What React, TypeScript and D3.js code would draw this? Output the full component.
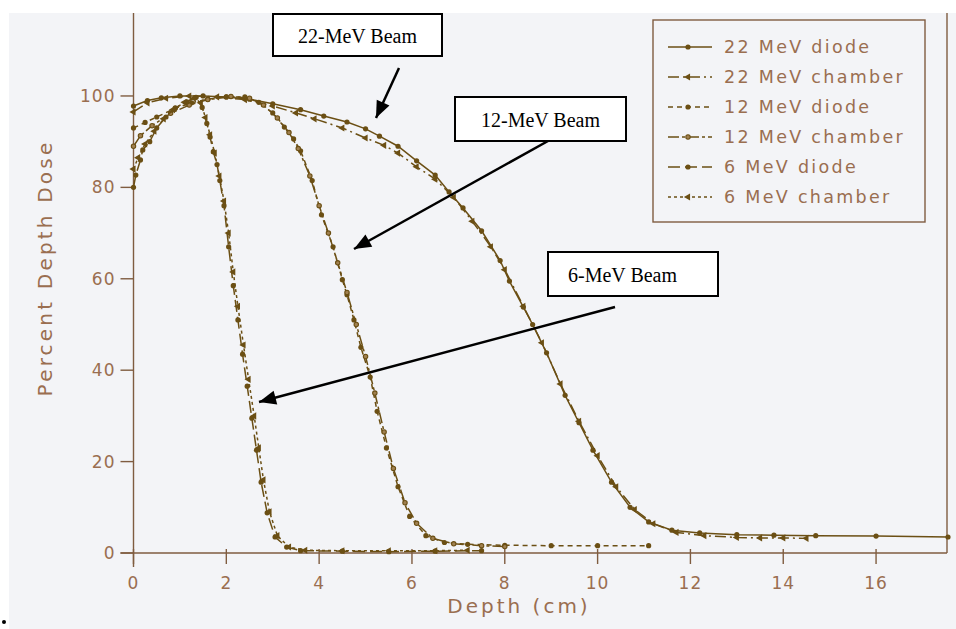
import React from "react";
import * as d3 from "d3";

// Depth-dose measurements: [depth (cm), percent depth dose]
const dose22Diode: [number, number][] = [
  [0, 97.8], [0.3, 99], [0.6, 99.6], [1.0, 100], [1.5, 100], [2.0, 99.8], [2.5, 99.3], [3.0, 98.3],
  [3.6, 97], [4.1, 95.6], [4.6, 94.3], [5.0, 92.8], [5.3, 91.2], [5.7, 89], [6.1, 85.8], [6.5, 82.7],
  [6.8, 79], [7.1, 75.5], [7.5, 70.5], [7.9, 64], [8.1, 59.5], [8.4, 53.8], [8.6, 50], [8.9, 43.8],
  [9.3, 34.5], [9.6, 28.5], [9.9, 22.5], [10.3, 15.5], [10.7, 10], [11.1, 6.8], [11.6, 5], [12.2, 4.4],
  [13.0, 4], [13.8, 3.9], [14.7, 3.8], [16.0, 3.7], [17.55, 3.5],
];
const dose22Chamber: [number, number][] = [
  [0, 96.5], [0.3, 98.5], [0.7, 99.5], [1.2, 100], [1.8, 99.8], [2.4, 99.2], [3.0, 97.8], [3.5, 96.3],
  [3.9, 95], [4.5, 93], [5.0, 90.8], [5.4, 89.2], [5.7, 87.5], [6.1, 84.5], [6.5, 81.8], [6.9, 77.8],
  [7.3, 72.6], [7.7, 67], [8.0, 62], [8.4, 54], [8.8, 46], [9.2, 37], [9.6, 28.8], [10.0, 21.3],
  [10.4, 14.5], [10.8, 9.5], [11.2, 6.4], [11.7, 4.5], [12.3, 3.8], [13.0, 3.4], [13.5, 3.3], [14.0, 3.3],
  [14.5, 3.2],
];
const dose12Diode: [number, number][] = [
  [0, 93], [0.25, 94.2], [0.5, 95.4], [0.9, 97.3], [1.25, 98.5], [1.6, 99.3], [2.0, 99.8], [2.4, 99.8],
  [2.7, 98.6], [3.0, 96.3], [3.25, 93.2], [3.45, 90.6], [3.6, 88], [3.85, 81.5], [4.05, 74], [4.3, 67],
  [4.5, 59.8], [4.6, 56.5], [4.75, 51], [4.9, 45], [5.1, 38.5], [5.25, 31], [5.45, 23], [5.7, 14.5],
  [5.95, 8], [6.3, 3.8], [6.7, 2.3], [7.2, 1.9], [8.0, 1.7], [9.0, 1.6], [10.0, 1.6], [11.1, 1.6],
];
const dose12Chamber: [number, number][] = [
  [0, 89], [0.15, 91.3], [0.4, 93.5], [0.8, 96.2], [1.2, 98], [1.6, 99.2], [2.1, 99.9], [2.5, 99.5],
  [2.8, 98], [3.1, 95.2], [3.35, 92], [3.55, 88.5], [3.8, 82.5], [4.0, 76], [4.2, 70], [4.4, 63.5],
  [4.6, 57], [4.8, 50], [5.0, 43], [5.2, 35], [5.4, 26.5], [5.6, 18.5], [5.85, 11], [6.1, 6.5],
  [6.45, 3.2], [6.9, 2], [7.5, 1.6], [8.0, 1.4],
];
const dose6Diode: [number, number][] = [
  [0, 80], [0.05, 82.7], [0.15, 86], [0.2, 88.2], [0.35, 90], [0.5, 93], [0.7, 95.4], [0.9, 97.4],
  [1.15, 98.7], [1.35, 99.7], [1.48, 97.5], [1.58, 94], [1.65, 91], [1.72, 87.8], [1.8, 85], [1.86, 81.5],
  [1.95, 76], [2.05, 67], [2.15, 58.5], [2.25, 51], [2.35, 43.5], [2.45, 36.5], [2.55, 29.5], [2.65, 22.5],
  [2.75, 15.5], [2.88, 8.8], [3.05, 3.5], [3.3, 1.3], [3.6, 0.5], [4.5, 0.4], [5.5, 0.3], [6.5, 0.4],
  [7.5, 0.5],
];
const dose6Chamber: [number, number][] = [
  [0, 84], [0.1, 86.5], [0.25, 89.5], [0.45, 92.3], [0.65, 95], [0.85, 97], [1.1, 98.6], [1.3, 99.5],
  [1.45, 98.5], [1.55, 95.3], [1.65, 91.5], [1.75, 87.5], [1.85, 82.5], [1.95, 77], [2.05, 70], [2.15, 61.5],
  [2.25, 54], [2.37, 45.5], [2.48, 38], [2.6, 30], [2.7, 23], [2.8, 16], [2.93, 9], [3.1, 3.8],
  [3.35, 1.3], [3.7, 0.6], [4.5, 0.5], [5.5, 0.5], [6.5, 0.5], [7.2, 0.6],
];

const seriesNames = [
  "22 MeV diode",
  "22 MeV chamber",
  "12 MeV diode",
  "12 MeV chamber",
  "6 MeV diode",
  "6 MeV chamber",
];
const seriesData = [dose22Diode, dose22Chamber, dose12Diode, dose12Chamber, dose6Diode, dose6Chamber];

const xTicks = [0, 2, 4, 6, 8, 10, 12, 14, 16];
const yTicks = [0, 20, 40, 60, 80, 100];

const beamLabels = ["22-MeV Beam", "12-MeV Beam", "6-MeV Beam"];

// Drawing styles
const dashes = ["none", "11,4,2,4", "5,4", "11,3,3,3", "12,5", "3,3"];
const markerKinds = ["dot", "tri", "dot", "ring", "dot", "tri"];

const INK = "#6b4f14";
const AXIS = "#7f5c40";
const TEXT = "#9a6e50";
const FONT = "'DejaVu Sans', sans-serif";

export default function App() {
  const W = 956;
  const H = 629;
  const x = d3.scaleLinear().domain([0, 17.55]).range([133.5, 948]);
  const y = d3.scaleLinear().domain([0, 118]).range([553, 13.7]);
  const line = d3
    .line<[number, number]>()
    .x((d) => x(d[0]))
    .y((d) => y(d[1]));

  const tri = d3.symbol().type(d3.symbolTriangle).size(22)() as string;

  const marker = (kind: string, cx: number, cy: number, key: string | number) => {
    if (kind === "tri")
      return <path key={key} d={tri} transform={`translate(${cx},${cy}) rotate(-90)`} fill={INK} />;
    if (kind === "ring")
      return <circle key={key} cx={cx} cy={cy} r={2.2} fill="#a08050" stroke={INK} strokeWidth={1.1} />;
    return <circle key={key} cx={cx} cy={cy} r={2.6} fill={INK} />;
  };

  // annotation boxes and arrows
  const boxes = [
    { x0: 273, y0: 14, x1: 442, y1: 56, tx: 357.5, anchor: "middle", arrow: [399, 68, 376, 118] },
    { x0: 455, y0: 97, x1: 626, y1: 141, tx: 540.5, anchor: "middle", arrow: [548, 141, 354, 249] },
    { x0: 548, y0: 252, x1: 718, y1: 296, tx: 568, anchor: "start", arrow: [615, 307, 259, 402] },
  ];

  const arrowHead = (x1: number, y1: number, x2: number, y2: number) => {
    const a = Math.atan2(y2 - y1, x2 - x1);
    const L = 17;
    const Wd = 7;
    const bx = x2 - L * Math.cos(a);
    const by = y2 - L * Math.sin(a);
    const px = -Math.sin(a) * Wd;
    const py = Math.cos(a) * Wd;
    return `M${x2},${y2}L${bx + px},${by + py}L${bx - px},${by - py}Z`;
  };

  const legendX = 668;
  const legendY0 = 47;
  const legendDy = 30;

  return (
    <svg
      width={W}
      height={H}
      viewBox={`0 0 ${W} ${H}`}
      style={{ position: "absolute", left: 0, top: 0, display: "block" }}
    >
      <rect x={0} y={0} width={W} height={H} fill="#ffffff" />
      <rect x={9} y={13} width={W - 9} height={H - 13} fill="#f3f4f7" />
      <circle cx={4} cy={622} r={2} fill="#000" />

      {/* axes frame */}
      <g stroke={AXIS} strokeWidth={1.4} fill="none">
        <line x1={x(0)} y1={13} x2={x(0)} y2={y(0) + 14} />
        <line x1={x(0) - 13} y1={y(0)} x2={947} y2={y(0)} />
        <line x1={947} y1={13} x2={947} y2={y(0)} />
        {yTicks.map((t) => (
          <line key={t} x1={x(0) - 13} x2={x(0)} y1={y(t)} y2={y(t)} />
        ))}
        {xTicks.map((t) => (
          <line key={t} x1={x(t)} x2={x(t)} y1={y(0) - 4} y2={y(0) + 11} />
        ))}
      </g>

      <g fill={TEXT} fontFamily={FONT} fontSize={17} letterSpacing={1}>
        {yTicks.map((t) => (
          <text key={t} x={x(0) - 18} y={y(t)} textAnchor="end" dominantBaseline="central">
            {t}
          </text>
        ))}
        {xTicks.map((t) => (
          <text key={t} x={x(t)} y={583} textAnchor="middle" dominantBaseline="central">
            {t}
          </text>
        ))}
        <text x={519} y={606} textAnchor="middle" dominantBaseline="central" fontSize={20} letterSpacing={3}>
          Depth (cm)
        </text>
        <text
          transform={`translate(45,268) rotate(-90)`}
          textAnchor="middle"
          dominantBaseline="central"
          fontSize={20}
          letterSpacing={3.2}
        >
          Percent Depth Dose
        </text>
      </g>

      {/* curves */}
      {seriesData.map((data, i) => (
        <g key={seriesNames[i]}>
          <path d={line(data) || ""} fill="none" stroke={INK} strokeWidth={1.5} strokeDasharray={dashes[i]} />
          {data.map((d, j) => marker(markerKinds[i], x(d[0]), y(d[1]), j))}
        </g>
      ))}

      {/* legend */}
      <rect x={653} y={20} width={272} height={202} fill="none" stroke={AXIS} strokeWidth={1.4} />
      {seriesNames.map((name, i) => {
        const ly = legendY0 + i * legendDy;
        return (
          <g key={name}>
            <line x1={legendX} x2={legendX + 44} y1={ly} y2={ly} stroke={INK} strokeWidth={1.3} strokeDasharray={dashes[i]} />
            {marker(markerKinds[i], legendX + 20, ly, "m")}
            <text
              x={724}
              y={ly}
              dominantBaseline="central"
              fill={TEXT}
              fontFamily={FONT}
              fontSize={17.5}
              letterSpacing={2.3}
            >
              {name}
            </text>
          </g>
        );
      })}

      {/* beam annotations */}
      {boxes.map((b, i) => (
        <g key={beamLabels[i]}>
          <rect x={b.x0} y={b.y0} width={b.x1 - b.x0} height={b.y1 - b.y0} fill="#ffffff" stroke="#000" strokeWidth={2} />
          <text
            x={b.tx}
            y={(b.y0 + b.y1) / 2 + 1}
            textAnchor={b.anchor as any}
            dominantBaseline="central"
            fontFamily="'Liberation Serif', serif"
            fontSize={20}
            fill="#000"
          >
            {beamLabels[i]}
          </text>
          <line x1={b.arrow[0]} y1={b.arrow[1]} x2={b.arrow[2]} y2={b.arrow[3]} stroke="#000" strokeWidth={2.5} />
          <path d={arrowHead(b.arrow[0], b.arrow[1], b.arrow[2], b.arrow[3])} fill="#000" />
        </g>
      ))}
    </svg>
  );
}
